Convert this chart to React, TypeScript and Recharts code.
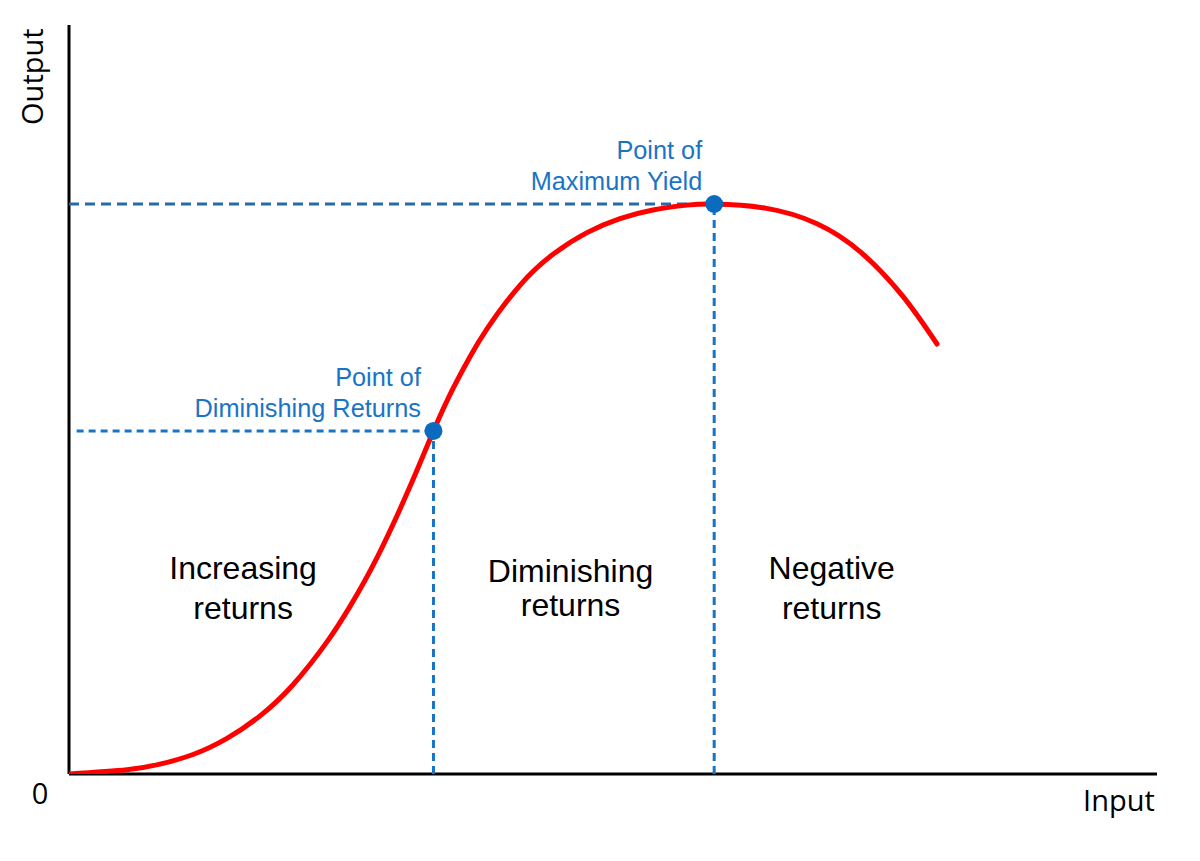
import React from "react";
import { LineChart, Line, XAxis, YAxis, ReferenceLine, ReferenceDot } from "recharts";

// Production curve (input units 0-100, output units 0-100)
const inputValues = [0, 5.33, 8.36, 11.4, 14.52, 17.56, 20.59, 23.71, 25.83, 28.31, 31.34, 33.5, 35.29, 36.86, 38.42, 41.45, 44.49, 47.61, 50.64, 53.68, 56.8, 59.3, 64.0, 68.75, 72.79, 76.65, 79.78];
const outputValues = [0, 0.57, 1.31, 2.6, 4.75, 7.76, 11.92, 17.64, 22.38, 28.88, 38.37, 45.8, 51.44, 55.71, 59.44, 65.25, 69.39, 72.28, 74.15, 75.31, 75.95, 76.1, 75.55, 73.47, 69.65, 63.76, 57.41];

// Key points
const diminishingPoint = { x: 33.5, y: 45.8 };
const maxYieldPoint = { x: 59.3, y: 76.1 };

// Text annotations
const regionLabels = [
  { x: 16.0, y: 26.0, lines: ["Increasing", "returns"], lh: 40 },
  { x: 46.1, y: 25.6, lines: ["Diminishing", "returns"], lh: 34 },
  { x: 70.1, y: 26.0, lines: ["Negative", "returns"], lh: 40 },
];
const pointLabels = [
  { x: 58.2, y: 82.1, lines: ["Point of", "Maximum Yield"] },
  { x: 32.35, y: 51.8, lines: ["Point of", "Diminishing Returns"] },
];

const data = inputValues.map((x, i) => ({ x, y: outputValues[i] }));

const BLUE = "#1a74c6";
const DARK_BLUE = "#2a6aa9";

const textLabel =
  (lines: string[], opts: { anchor: string; size: number; color: string; family: string; lh: number; rotate?: boolean }) =>
  (props: any) => {
    const vb = props.viewBox || {};
    const x = (vb.x ?? 0) + (vb.width ?? 0) / 2;
    const y = (vb.y ?? 0) + (vb.height ?? 0) / 2;
    return (
      <text
        x={x}
        y={y}
        textAnchor={opts.anchor as any}
        fontSize={opts.size}
        fill={opts.color}
        fontFamily={opts.family}
        transform={opts.rotate ? `rotate(-90 ${x} ${y})` : undefined}
      >
        {lines.map((l, i) => (
          <tspan key={i} x={x} dy={i === 0 ? 0 : opts.lh}>
            {l}
          </tspan>
        ))}
      </text>
    );
  };

export default function App() {
  return (
    <div style={{ position: "absolute", left: 0, top: 0, width: 1200, height: 861, background: "#fff" }}>
      <LineChart width={1200} height={861} data={data} margin={{ top: 25, right: 43, bottom: 87, left: 69 }}>
        <XAxis dataKey="x" type="number" domain={[0, 100]} hide allowDataOverflow />
        <YAxis type="number" domain={[0, 100]} hide allowDataOverflow />
        {/* axes */}
        <ReferenceLine segment={[{ x: 0, y: 0 }, { x: 100, y: 0 }]} stroke="#000" strokeWidth={3} ifOverflow="visible" />
        <ReferenceLine segment={[{ x: 0, y: 0 }, { x: 0, y: 100 }]} stroke="#000" strokeWidth={3} ifOverflow="visible" />
        <ReferenceLine
          segment={[{ x: 0, y: maxYieldPoint.y }, { x: maxYieldPoint.x, y: maxYieldPoint.y }]}
          stroke={DARK_BLUE}
          strokeWidth={3}
          strokeDasharray="10 6"
        />
        <ReferenceLine
          segment={[{ x: 0.7, y: diminishingPoint.y }, { x: diminishingPoint.x, y: diminishingPoint.y }]}
          stroke={BLUE}
          strokeWidth={3}
          strokeDasharray="7 5"
        />
        <ReferenceLine
          segment={[{ x: diminishingPoint.x, y: 0 }, { x: diminishingPoint.x, y: diminishingPoint.y }]}
          stroke={BLUE}
          strokeWidth={3}
          strokeDasharray="8 5"
        />
        <ReferenceLine
          segment={[{ x: maxYieldPoint.x, y: 0 }, { x: maxYieldPoint.x, y: maxYieldPoint.y }]}
          stroke={BLUE}
          strokeWidth={3}
          strokeDasharray="8 5"
        />
        <Line
          type="natural"
          dataKey="y"
          stroke="#ff0000"
          strokeWidth={5}
          strokeLinecap="round"
          dot={false}
          activeDot={false}
          isAnimationActive={false}
        />
        <ReferenceDot x={diminishingPoint.x} y={diminishingPoint.y} r={9} fill="#0b6cbf" stroke="none" />
        <ReferenceDot x={maxYieldPoint.x} y={maxYieldPoint.y} r={9} fill="#0b6cbf" stroke="none" />
        {regionLabels.map((l, i) => (
          <ReferenceDot
            key={"r" + i}
            x={l.x}
            y={l.y}
            r={0}
            fill="none"
            stroke="none"
            ifOverflow="visible"
            label={textLabel(l.lines, { anchor: "middle", size: 32, color: "#000", family: "'Liberation Sans', Arial, sans-serif", lh: l.lh })}
          />
        ))}
        {pointLabels.map((l, i) => (
          <ReferenceDot
            key={"p" + i}
            x={l.x}
            y={l.y}
            r={0}
            fill="none"
            stroke="none"
            ifOverflow="visible"
            label={textLabel(l.lines, { anchor: "end", size: 25.3, color: BLUE, family: "'Liberation Sans', Arial, sans-serif", lh: 31 })}
          />
        ))}
        <ReferenceDot
          x={-2.67}
          y={-4.0}
          r={0}
          fill="none"
          stroke="none"
          ifOverflow="visible"
          label={textLabel(["0"], { anchor: "middle", size: 29, color: "#000", family: "'Open Sans', sans-serif", lh: 0 })}
        />
        <ReferenceDot
          x={99.8}
          y={-4.9}
          r={0}
          fill="none"
          stroke="none"
          ifOverflow="visible"
          label={textLabel(["Input"], { anchor: "end", size: 29, color: "#000", family: "'Open Sans', sans-serif", lh: 0 })}
        />
        <ReferenceDot
          x={-2.39}
          y={93.1}
          r={0}
          fill="none"
          stroke="none"
          ifOverflow="visible"
          label={textLabel(["Output"], { anchor: "middle", size: 29, color: "#000", family: "'Open Sans', sans-serif", lh: 0, rotate: true })}
        />
      </LineChart>
    </div>
  );
}
